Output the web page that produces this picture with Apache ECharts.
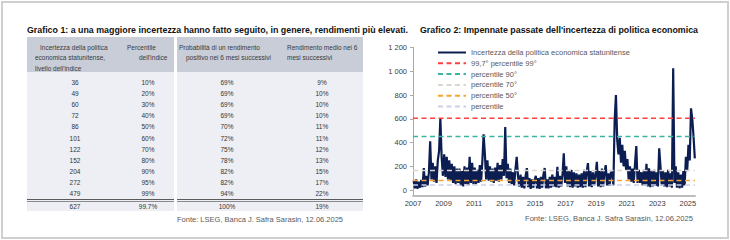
<!DOCTYPE html>
<html>
<head>
<meta charset="utf-8">
<script src="https://cdn.jsdelivr.net/npm/echarts@6/dist/echarts.min.js"></script>
<style>
body{margin:0;width:730px;height:240px;position:relative;background:#fff;overflow:hidden;font-family:'Liberation Sans',Arial,sans-serif}
#chart{position:absolute;left:0;top:0;width:730px;height:240px}
.frame{position:absolute;left:1px;top:1px;width:724px;height:234px;border:2px solid #cfcfcf;pointer-events:none}
.t{position:absolute;white-space:nowrap;transform-origin:0 50%}
.title{font-weight:bold;font-size:9.5px;line-height:10px;color:#111}
.src{font-size:7.5px;line-height:8px;color:#595959}
.blk{position:absolute}
.head{background:#c8cdd8}
.body{background:#edeff4}
.hd{font-size:6.5px;line-height:7px;color:#3a3a3a}
.cell{position:absolute;font-size:6.5px;line-height:7px;color:#333;white-space:nowrap;transform:translate(-50%,-50%)}
.rule{position:absolute;height:1px;background:#5a5a5a}
</style>
</head>
<body>
<div id="chart"></div>
<div class="frame"></div>

<div class="t title fit" data-w="381" style="left:27px;top:25px">Grafico 1: a una maggiore incertezza hanno fatto seguito, in genere, rendimenti più elevati.</div>
<div class="t title fit" data-w="278" style="left:420px;top:25px">Grafico 2: Impennate passate dell'incertezza di politica economica</div>

<div class="blk head" style="left:27px;top:37px;width:147px;height:35px"></div>
<div class="blk head" style="left:177px;top:37px;width:186px;height:35px"></div>
<div class="blk body" style="left:27px;top:72px;width:147px;height:139px"></div>
<div class="blk body" style="left:177px;top:72px;width:186px;height:139px"></div>

<div class="t hd" style="left:40px;top:43.5px">Incertezza della politica</div>
<div class="t hd" style="left:35px;top:54px">economica statunitense,</div>
<div class="t hd" style="left:35px;top:64.5px">livello dell'indice</div>
<div class="t hd" style="left:127px;top:43.5px">Percentile</div>
<div class="t hd" style="left:139px;top:54px">dell'indice</div>
<div class="t hd" style="left:179px;top:43.5px">Probabilità di un rendimento</div>
<div class="t hd" style="left:186px;top:54px">positivo nei 6 mesi successivi</div>
<div class="t hd" style="left:287px;top:43.5px">Rendimento medio nei 6</div>
<div class="t hd" style="left:287px;top:54px">mesi successivi</div>

<div class="rule" style="left:27px;top:199px;width:147px"></div>
<div class="rule" style="left:27px;top:201px;width:147px;background:#8a8a8a"></div>
<div class="rule" style="left:177px;top:199px;width:186px"></div>
<div class="rule" style="left:177px;top:201px;width:186px;background:#8a8a8a"></div>

<div id="cells"></div>

<div class="t src fit" data-w="166" style="left:177px;top:216px">Fonte: LSEG, Banca J. Safra Sarasin, 12.06.2025</div>
<div class="t src fit" data-w="168" style="left:525px;top:215px">Fonte: LSEG, Banca J. Safra Sarasin, 12.06.2025</div>

<script>
// tabella (Grafico 1)
var uncertaintyLevel = ['36', '49', '60', '72', '86', '101', '122', '152', '204', '272', '479', '627'];
var indexPercentile = ['10%', '20%', '30%', '40%', '50%', '60%', '70%', '80%', '90%', '95%', '99%', '99.7%'];
var probPositive = ['69%', '69%', '69%', '69%', '70%', '72%', '75%', '78%', '82%', '82%', '94%', '100%'];
var avgReturn = ['9%', '10%', '10%', '10%', '11%', '11%', '12%', '13%', '15%', '17%', '22%', '19%'];

// serie mensile (Grafico 2), da gen 2007 a giu 2025
var startYear = 2007;
var epuMonthly = [
    80, 15, 90, 10, 70, 20, 85, 25, 185, 30, 120, 40,
    150, 410, 90, 230, 70, 200, 60, 250, 330, 605, 280, 120,
    300, 110, 280, 90, 250, 80, 220, 60, 200, 50, 180, 60,
    180, 40, 160, 30, 200, 50, 190, 40, 280, 60, 230, 50,
    190, 50, 170, 60, 210, 70, 240, 470, 300, 90, 250, 80,
    200, 70, 180, 60, 190, 80, 230, 70, 210, 90, 260, 120,
    530, 100, 220, 60, 180, 50, 150, 40, 170, 280, 120, 30,
    130, 20, 110, 15, 120, 185, 25, 100, 10, 90, 20, 80,
    120, 15, 100, 10, 110, 20, 130, 185, 15, 90, 15, 110,
    20, 130, 30, 110, 25, 196, 20, 120, 30, 130, 309, 60,
    200, 30, 160, 25, 170, 20, 150, 30, 140, 20, 130, 25,
    140, 20, 170, 25, 150, 227, 30, 160, 25, 150, 40, 130,
    238, 30, 160, 25, 180, 30, 150, 210, 40, 140, 35, 150,
    150, 40, 590, 800, 420, 300, 440, 230, 380, 200, 330, 170,
    260, 90, 200, 70, 180, 60, 220, 370, 60, 170, 60, 150,
    40, 170, 40, 220, 30, 182, 25, 160, 30, 170, 35, 150,
    30, 351, 200, 40, 160, 30, 150, 25, 170, 30, 140, 20,
    1025, 60, 200, 20, 150, 15, 130, 20, 160, 40, 280, 160,
    380, 250, 688, 600, 449, 267
];
var pctNames = ['99,7° percentile 99°', 'percentile 90°', 'percentile 70°', 'percentile 50°', 'percentile'];
var pctLevels = [605, 450, 165, 80, 42];
var yearTicks = [2007, 2009, 2011, 2013, 2015, 2017, 2019, 2021, 2023, 2025];
var valueTicks = [0, 200, 400, 600, 800, 1000, 1200];

var pctColors = ['#ff4040', '#3bb5a3', '#ddd8cf', '#f6a530', '#cbcfe6'];

// celle della tabella
var colX = [75, 148, 227, 322];
var cols = [uncertaintyLevel, indexPercentile, probPositive, avgReturn];
var html = '';
for (var r = 0; r < uncertaintyLevel.length; r++) {
    var y = r < 11 ? 82 + r * 11.1 : 205.5;
    for (var c = 0; c < cols.length; c++) {
        html += '<div class="cell" style="left:' + colX[c] + 'px;top:' + y + 'px">' + cols[c][r] + '</div>';
    }
}
document.getElementById('cells').innerHTML = html;

// adatta la larghezza dei testi
var fits = document.querySelectorAll('.fit');
for (var i = 0; i < fits.length; i++) {
    var w = fits[i].getBoundingClientRect().width;
    fits[i].style.transform = 'scaleX(' + (fits[i].getAttribute('data-w') / w) + ')';
}

var xEnd = 2025.47;
var lineData = epuMonthly.map(function (v, i) {
    return [startYear + (i + 0.5) / 12, v];
});

var series = [{
    name: 'Incertezza della politica economica statunitense',
    type: 'line',
    symbol: 'none',
    data: lineData,
    lineStyle: { color: '#0b1d51', width: 2.2, join: 'bevel' },
    itemStyle: { color: '#0b1d51' }
}];
for (var k = 0; k < pctNames.length; k++) {
    series.push({
        name: pctNames[k],
        type: 'line',
        symbol: 'none',
        data: [[startYear, pctLevels[k]], [xEnd, pctLevels[k]]],
        lineStyle: { color: pctColors[k], width: 1.5, type: [5, 3.5] },
        itemStyle: { color: pctColors[k] }
    });
}

var myChart = echarts.init(document.getElementById('chart'), null, { renderer: 'svg' });
var option = {
    animation: false,
    textStyle: { fontFamily: 'Liberation Sans' },
    grid: {
        left: 413,
        right: 35,
        top: 47.5,
        bottom: 44
    },
    legend: {
        orient: 'vertical',
        left: 432,
        top: 43.5,
        itemWidth: 28,
        itemHeight: 8,
        itemGap: 2.8,
        itemStyle: { opacity: 0 },
        textStyle: { fontSize: 7.5, color: '#595959', lineHeight: 8 },
        data: series.map(function (s) { return s.name; })
    },
    xAxis: {
        type: 'value',
        min: startYear,
        max: xEnd,
        splitLine: { show: false },
        axisLine: { onZero: false, lineStyle: { color: '#bdbdbd', width: 2 } },
        axisTick: { show: false },
        axisLabel: {
            customValues: yearTicks,
            formatter: function (v) { return String(v); },
            color: '#404040',
            fontSize: 7.5,
            margin: 3
        }
    },
    yAxis: {
        type: 'value',
        min: -50,
        max: 1200,
        splitLine: { show: false },
        axisLine: { show: true, onZero: false, lineStyle: { color: '#b0a89f', width: 1 } },
        axisTick: { show: true, customValues: valueTicks, length: 3, lineStyle: { color: '#b0a89f' } },
        axisLabel: {
            customValues: valueTicks,
            formatter: function (v) { return String(v).replace(/\B(?=(\d{3})+(?!\d))/g, ' '); },
            color: '#404040',
            fontSize: 7.5,
            margin: 6
        }
    },
    series: series
};
myChart.setOption(option);
</script>
</body>
</html>
